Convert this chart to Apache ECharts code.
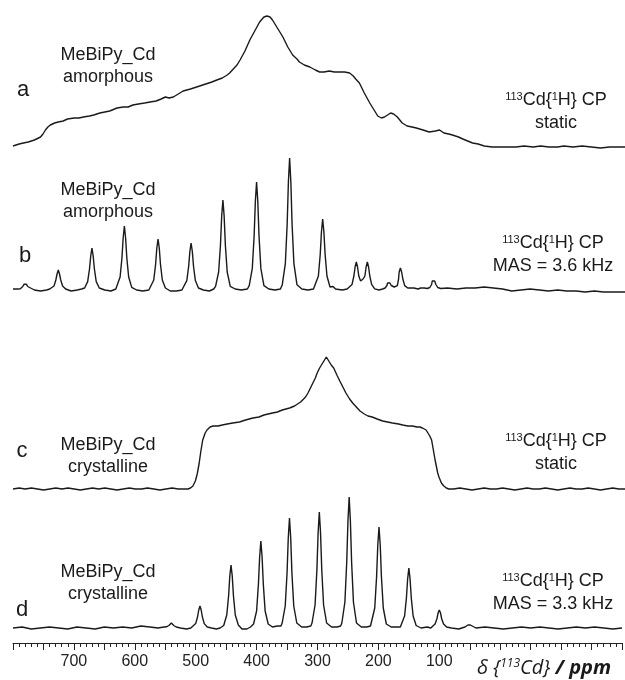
<!DOCTYPE html>
<html>
<head>
<meta charset="utf-8">
<script src="https://cdn.jsdelivr.net/npm/echarts@6/dist/echarts.min.js"></script>
<style>
html,body{margin:0;padding:0;background:#fff;}
#chart{width:625px;height:680px;}
</style>
</head>
<body>
<div id="chart"></div>
<script>
// x-axis tick labels (ppm)
const tickLabels = [700, 600, 500, 400, 300, 200, 100];

// spectrum letters and annotation texts
const letters = ['a', 'b', 'c', 'd'];
const sampleNames = ['MeBiPy_Cd', 'MeBiPy_Cd', 'MeBiPy_Cd', 'MeBiPy_Cd'];
const sampleStates = ['amorphous', 'amorphous', 'crystalline', 'crystalline'];
const experiment = ['{sup|113}Cd{{sup|1}H} CP', '{sup|113}Cd{{sup|1}H} CP', '{sup|113}Cd{{sup|1}H} CP', '{sup|113}Cd{{sup|1}H} CP'];
const conditions = ['static', 'MAS = 3.6 kHz', 'static', 'MAS = 3.3 kHz'];

// spectrum a: amorphous, static  [ppm, intensity]
const specA = [[800,1],[790,3],[783,4],[775,5],[765,7],[755,10],[751,13],[747,17],[743,20],[739,22],[732,24],[726,25],[718,26],[711,28],[700,29],[692,29],[685,30],[675,31],[668,32],[658,34],[650,35],[642,36],[630,39],[620,40],[612,40],[604,42],[595,43],[585,44],[576,45],[566,46],[558,48],[551,50],[545,49],[538,50],[530,53],[522,56],[510,58],[500,60],[495,61],[485,63],[475,65],[467,67],[458,69],[450,72],[446,74],[440,78],[434,82],[429,87],[421,96],[413,107],[405,116],[397,125],[390,130],[385,131],[380,130],[376,127],[368,119],[359,110],[351,100],[343,92],[336,88],[332,85],[324,82],[315,80],[306,77],[299,75],[292,75],[283,76],[275,75],[265,75],[258,75],[250,74],[244,71],[240,68],[234,64],[226,54],[217,44],[210,37],[204,31],[198,29],[193,30],[188,32],[183,34],[178,33],[172,30],[164,24],[156,21],[148,20],[141,19],[130,17],[120,15],[110,16],[103,17],[96,14],[88,13],[82,12],[72,10],[65,8],[57,6],[49,4],[40,3],[30,1],[17,0],[5,0],[-10,0],[-22,0],[-35,1],[-50,0],[-62,1],[-76,0],[-90,0],[-100,1],[-115,0],[-130,1],[-145,0],[-160,-1],[-175,0],[-200,0]];

// spectrum b: amorphous, MAS 3.6 kHz
const specB = [[800,1],[792,1],[788,1.3],[784,3.5],[782,5.7],[780,7],[778,5.7],[776,3.5],[773,1.5],[765,0],[755,-1],[745,0],[740,1],[738,1.5],[733,4],[730,10],[728,16],[726,20],[724,16],[722,10],[719,4],[714,1],[705,-1],[695,0],[688,1],[683,2],[678,8.4],[675,21],[673,34],[671,42],[669,34],[667,21],[664,8.4],[659,2],[650,0],[640,-1],[632,1],[630,2.6],[625,13],[622,32],[620,52],[618,64],[616,52],[614,32],[611,13],[606,2.6],[598,0],[588,-1],[578,0],[575,2],[570,10],[567,25.5],[565,42],[563,51],[561,42],[559,25.5],[556,10],[551,2],[543,-1],[533,-1],[524,0],[521,2],[516,9.4],[513,23.5],[511,38.5],[509,47],[507,38.5],[505,23.5],[502,9.4],[497,2],[489,0],[479,-1],[472,1],[469,3.6],[464,18],[461,45],[459,74],[457,90],[455,74],[453,45],[450,18],[445,3.6],[437,1],[427,0],[417,1],[414,4.3],[409,21.6],[406,54],[404,88.5],[402,108],[400,88.5],[398,54],[395,21.6],[390,4.3],[382,1],[372,0],[363,1],[360,5.3],[355,26.4],[352,66],[350,108],[348,132],[346,108],[344,66],[341,26.4],[336,5.3],[328,1],[318,0],[309,1],[306,2.8],[301,14],[298,35.5],[296,58],[294,71],[292,58],[290,35.5],[287,14],[282,3],[280,3],[277,3.5],[273,1],[262,0],[254,1],[251,1.1],[246,5.6],[243,14],[241,23],[239,28],[237,23],[235,14],[232,9],[230,9],[228,11],[225,14],[223,23],[221,28],[219,23],[217,14],[214,5.6],[209,1.1],[202,0],[196,1],[192,2],[189,4.5],[188,7],[186,9],[184,7],[182,4.5],[179,2.5],[177,3],[172,4.4],[170,11],[169,18],[167,22],[165,18],[163,11],[160,4.4],[155,2],[145,2],[138,1],[134,2],[131,3],[128,2],[123,1.5],[119,2.5],[116,5.5],[115,9],[113,11],[111,9],[109,5.5],[106,2.5],[101,1.5],[90,2],[75,1],[60,2],[45,2],[30,3],[15,2],[0,1],[-15,-1],[-30,0],[-45,1],[-60,0],[-75,-1],[-90,0],[-105,-1],[-120,-1],[-135,-2],[-150,-1],[-165,-2],[-180,-2],[-200,-2]];

// spectrum c: crystalline, static
const specC = [[800,0],[790,1],[780,0],[770,1],[760,0],[750,-1],[740,0],[730,1],[720,0],[710,1],[700,0],[690,-1],[680,0],[670,1],[660,0],[650,1],[640,0],[630,-1],[620,0],[610,1],[600,0],[590,0],[580,1],[570,0],[560,-1],[550,0],[540,1],[530,0],[520,0],[514,0],[510,1],[506,3],[502,8],[499,15],[496,25],[493,38],[490,49],[486,56],[483,59],[478,62],[473,63],[465,63],[458,64],[450,65],[441,66],[430,67],[420,69],[408,71],[398,72],[390,74],[383,75],[376,76],[368,77],[360,79],[354,80],[348,81],[340,83],[335,85],[330,87],[327,89],[322,92],[318,96],[314,101],[310,106],[306,111],[303,116],[299,121],[296,124],[292,128],[288,132],[284,128],[280,124],[276,121],[273,117],[270,113],[266,108],[261,102],[256,96],[250,90],[245,86],[239,82],[233,78],[226,75],[220,73],[213,72],[205,70],[196,68],[188,67],[180,66],[170,65],[163,64],[155,63],[147,63],[140,62],[135,62],[131,61],[128,61],[125,59],[122,57],[119,53],[116,49],[114,42],[112,35],[110,28],[108,22],[106,16],[104,12],[102,9],[100,6],[98,4],[96,3],[92,1],[88,0],[80,0],[70,1],[60,0],[50,-1],[40,0],[30,1],[20,0],[10,0],[0,1],[-10,0],[-20,-1],[-30,0],[-40,1],[-50,0],[-60,0],[-70,1],[-80,0],[-90,-1],[-100,0],[-110,1],[-120,0],[-130,0],[-140,1],[-150,0],[-160,-1],[-170,0],[-180,1],[-190,0],[-200,0]];

// spectrum d: crystalline, MAS 3.3 kHz
const specD = [[800,0],[785,1],[770,-1],[755,0],[740,1],[725,0],[710,-1],[695,1],[680,0],[665,-1],[650,1],[635,0],[620,1],[605,0],[590,2],[575,1],[562,0],[552,1],[548,1.2],[544,2.5],[542,4],[540,5],[538,4],[536,2.5],[532,1],[525,0],[515,-1],[508,0],[505,1.5],[500,4.4],[497,11],[495,18],[493,22],[491,18],[489,11],[486,4.4],[481,1],[474,0],[466,-1],[460,0],[454,2.5],[449,13],[446,32],[444,52],[442,63],[440,52],[438,32],[435,13],[430,3],[424,-1],[416,-1],[410,1],[405,4],[400,17],[397,44],[395,71],[393,87],[391,71],[389,44],[386,17],[381,4],[374,1],[366,2],[360,2],[358,5],[353,22],[350,55],[348,90],[346,110],[344,90],[342,55],[339,22],[334,5],[326,1],[318,1],[311,2],[309,5],[304,23],[301,58],[299,95],[297,116],[295,95],[293,58],[290,23],[285,5],[277,1],[268,1],[262,2],[260,5],[255,26],[252,66],[250,107],[248,131],[246,107],[244,66],[241,26],[236,5],[228,1],[219,1],[213,2],[211,4],[206,20],[203,51],[201,83],[199,101],[197,83],[195,51],[192,20],[187,4],[179,1],[170,1],[164,1],[162,2.5],[157,12],[154,30],[152,49],[150,60],[148,49],[146,30],[143,12],[138,2.5],[130,0],[120,1],[114,0],[112,1],[107,4],[104,9],[102,15],[100,18],[98,15],[96,9],[93,4],[88,1],[80,0],[68,-1],[58,1],[55,1.5],[53,3],[51,4],[49,3],[47,1.5],[40,0],[25,1],[10,0],[-5,-1],[-20,0],[-35,1],[-50,0],[-65,1],[-80,0],[-95,-1],[-110,0],[-125,1],[-140,0],[-155,1],[-170,0],[-185,-1],[-200,0]];

const spectra = [specA, specB, specC, specD];

// layout (pixels)
const gridTops = [7, 150, 349, 488];
const gridHeights = [150, 150, 150, 155];
const yMins = [-10, -10, -10, -15];
const letterPos = [[23, 90], [25, 256], [22, 451], [22, 610]];
const namePos = [[108, 55], [108, 190], [108, 445], [108, 572]];
const expPos = [[556, 100], [553, 243], [556, 441], [553, 581]];
const LINE = '#1a1a1a';
const FONT = 'Liberation Sans, Arial, sans-serif';

const grids = [], xAxes = [], yAxes = [], series = [];
for (let i = 0; i < 4; i++) {
  grids.push({ left: 13, width: 613, top: gridTops[i], height: gridHeights[i] });
  const last = i === 3;
  xAxes.push({
    type: 'value', gridIndex: i, min: -200, max: 800, interval: 50, inverse: true,
    show: last, position: 'bottom',
    axisLine: { show: last, onZero: false, lineStyle: { color: '#222', width: 1 } },
    axisTick: { show: last, length: 7, lineStyle: { color: '#222', width: 1 } },
    minorTick: { show: last, splitNumber: 5, length: 4, lineStyle: { color: '#222', width: 1 } },
    splitLine: { show: false },
    axisLabel: {
      show: last, margin: 11, fontSize: 16, fontFamily: FONT, color: '#222',
      formatter: function (v) { return tickLabels.indexOf(v) >= 0 ? String(v) : ''; }
    }
  });
  yAxes.push({ type: 'value', gridIndex: i, min: yMins[i], max: 140, show: false, splitLine: { show: false } });
  series.push({
    type: 'line', xAxisIndex: i, yAxisIndex: i, data: spectra[i],
    showSymbol: false, silent: true, clip: false,
    lineStyle: { color: LINE, width: 1.4 }
  });
}

const graphics = [];
for (let i = 0; i < 4; i++) {
  graphics.push({ type: 'text', x: letterPos[i][0], y: letterPos[i][1],
    style: { text: letters[i], font: '22px ' + FONT, fill: LINE, align: 'center', verticalAlign: 'middle' } });
  graphics.push({ type: 'text', x: namePos[i][0], y: namePos[i][1],
    style: { text: sampleNames[i], font: '18px ' + FONT, fill: LINE, align: 'center', verticalAlign: 'middle' } });
  graphics.push({ type: 'text', x: namePos[i][0], y: namePos[i][1] + 22,
    style: { text: sampleStates[i], font: '18px ' + FONT, fill: LINE, align: 'center', verticalAlign: 'middle' } });
  graphics.push({ type: 'text', x: expPos[i][0], y: expPos[i][1],
    style: { text: experiment[i], fontSize: 18, fontFamily: FONT, fill: LINE, align: 'center', verticalAlign: 'middle',
      rich: { sup: { fontSize: 11, fontFamily: FONT, fill: LINE, verticalAlign: 'top' } } } });
  graphics.push({ type: 'text', x: expPos[i][0], y: expPos[i][1] + 23,
    style: { text: conditions[i], font: '18px ' + FONT, fill: LINE, align: 'center', verticalAlign: 'middle' } });
}
const TFONT = 'Open Sans, Liberation Sans, sans-serif';
graphics.push({ type: 'text', x: 477, y: 668,
  style: { text: 'δ {{sup|113}Cd} {b|/ ppm}', fontSize: 20, fontStyle: 'italic', fontFamily: TFONT, fill: LINE,
    align: 'left', verticalAlign: 'middle',
    rich: {
      sup: { fontSize: 12, fontStyle: 'italic', fontFamily: TFONT, fill: LINE, verticalAlign: 'top' },
      b: { fontSize: 20, fontStyle: 'italic', fontWeight: 'bold', fontFamily: TFONT, fill: LINE }
    } } });

const chart = echarts.init(document.getElementById('chart'), null, { renderer: 'canvas' });
chart.setOption({
  animation: false,
  backgroundColor: '#ffffff',
  grid: grids, xAxis: xAxes, yAxis: yAxes, series: series,
  graphic: graphics
});
</script>
</body>
</html>
